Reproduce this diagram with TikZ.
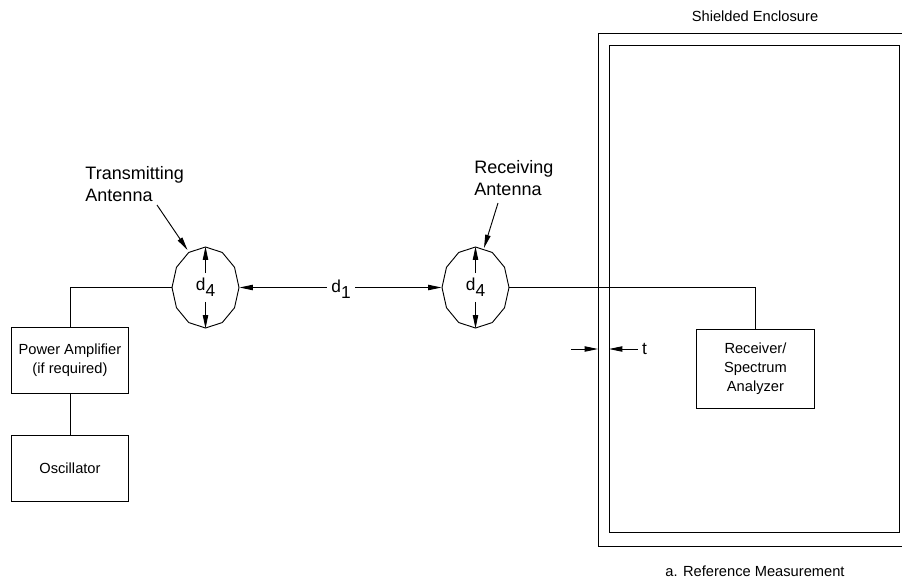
\documentclass[tikz,border=0pt]{standalone}
\usepackage{fontspec}
\setmainfont{Liberation Sans}
\usetikzlibrary{arrows.meta,shapes.geometric}
\tikzset{
    labeltext/.style={font=\fontsize{11}{14.25}\selectfont, align=center, inner sep=0pt},
    calloutlab/.style={font=\fontsize{13.5}{16.5}\selectfont, align=left, inner sep=0pt},
    dimlab/.style={font=\fontsize{13}{15}\selectfont, inner xsep=3pt, inner ysep=3.5pt},
    devicebox/.style={rectangle, draw, labeltext, anchor=north west},
    antennabody/.style={ellipse, minimum width=50.25pt, minimum height=60.75pt, inner sep=0pt},
    dimarrow/.style={-{Triangle[length=10pt,width=4pt]}}
}
\newcommand{\dimsym}[2]{#1\raisebox{-4.5pt}{#2}}
\newcommand{\antennaoutline}[1]{%
    \draw ([shift={(0:33.5 and 40.5)}]#1.center)
        \foreach \a in {30,60,...,330} { -- ([shift={(\a:33.5 and 40.5)}]#1.center) } -- cycle;
    \node (#1lab) at (#1) [dimlab] {\dimsym{d}{4}};
    \draw [dimarrow] (#1lab.north) -- (#1.90);
    \draw [dimarrow] (#1lab.south) -- (#1.270);
}
\begin{document}
\begin{tikzpicture}[x=0.75pt, y=-0.75pt, line width=0.7pt]
    \useasboundingbox (0,0) rectangle (902,582);

    % Antennas
    \node (txant) at (205.5,287.5) [antennabody] {};
    \node (rxant) at (475.5,287.5) [antennabody] {};
    \antennaoutline{txant}
    \antennaoutline{rxant}

    % Transmit chain
    \node (amp) at (11,327) [devicebox, minimum width=87.75pt, minimum height=49.5pt] {Power Amplifier\\(if required)};
    \node (osc) at (11,435) [devicebox, minimum width=87.75pt, minimum height=49.5pt] {Oscillator};
    \draw (amp.north) |- (txant.west);
    \draw (amp.south) -- (osc.north);

    % Enclosure walls
    \node (outerwall) at (598,32.5) [devicebox, minimum width=231pt, minimum height=384.75pt] {};
    \node (innerwall) at (609,45) [devicebox, minimum width=217.5pt, minimum height=365.25pt] {};
    \node (shieldlab) at (755,16) [labeltext] {Shielded Enclosure};
    \node (caption) at (755,571) [labeltext] {a. Reference Measurement};

    % Receiver
    \node (recv) at (696,329) [devicebox, minimum width=88.5pt, minimum height=59.25pt] {Receiver/\\Spectrum\\Analyzer};
    \draw (rxant.east) -| (recv.north);

    % Separation distance
    \node (dist) at (341,289) [dimlab] {\dimsym{d}{1}};
    \draw [dimarrow] (dist.west |- txant.east) -- (txant.east);
    \draw [dimarrow] (dist.east |- rxant.west) -- (rxant.west);

    % Wall thickness
    \coordinate (wallA) at (598,349);
    \coordinate (wallB) at (609,349);
    \coordinate (wallAend) at (571,349);
    \node (wallt) at (644.5,349) [dimlab, inner xsep=3pt] {t};
    \draw [dimarrow] (wallAend) -- (wallA);
    \draw [dimarrow] (wallt.west) -- (wallB);

    % Callouts
    \node (txlab) at (85,184) [calloutlab, anchor=west] {Transmitting\\Antenna};
    \node (rxlab) at (474,178.5) [calloutlab, anchor=west] {Receiving\\Antenna};
    \coordinate (txtail) at (157,205);
    \coordinate (txtip) at (187.5,250);
    \coordinate (rxtail) at (498,203);
    \coordinate (rxtip) at (484,248);
    \draw [dimarrow] (txtail) -- (txtip);
    \draw [dimarrow] (rxtail) -- (rxtip);
\end{tikzpicture}
\end{document}
